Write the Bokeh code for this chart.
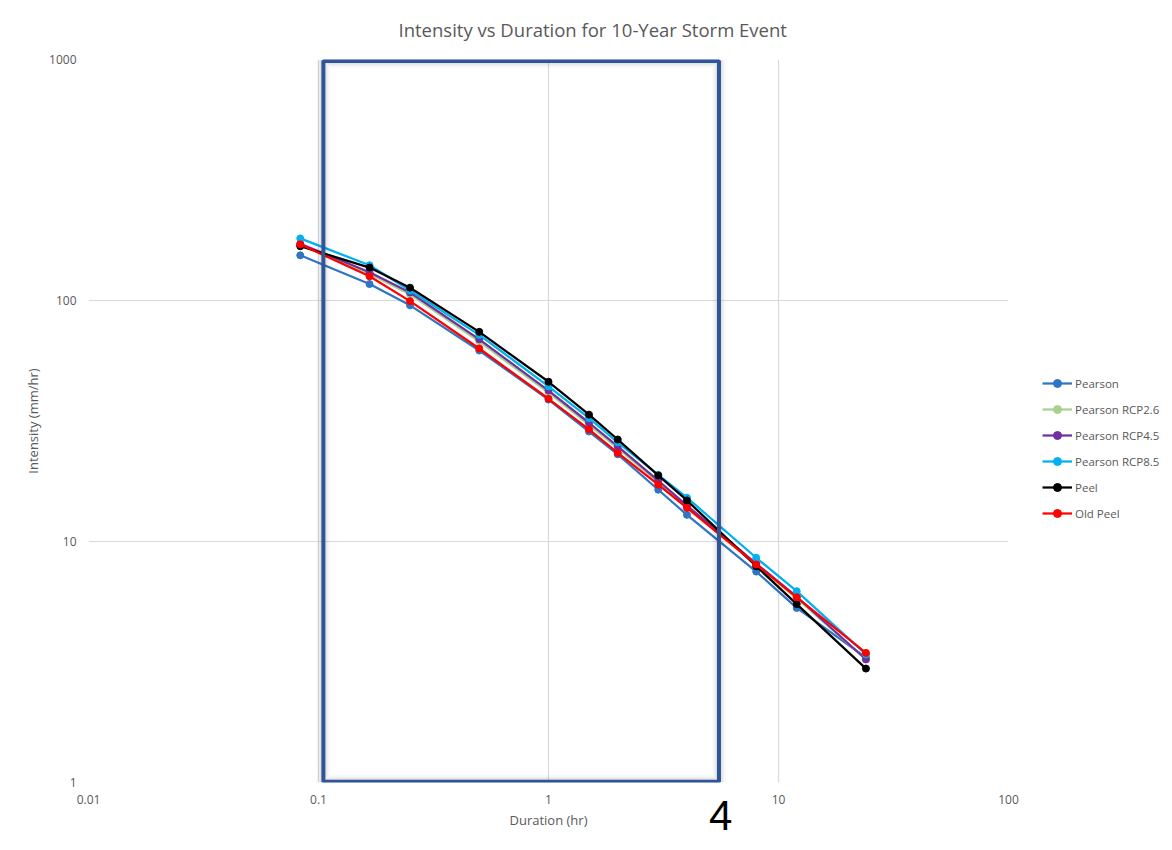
from bokeh.plotting import figure
from bokeh.models import (FixedTicker, Legend, LegendItem, Label,
                          Range1d, BasicTickFormatter)
from bokeh.embed import file_html
from bokeh.resources import INLINE

# ---------------- data ----------------
durations = [0.0833, 0.1667, 0.25, 0.5, 1, 1.5, 2, 3, 4, 8, 12, 24]

pearson =        [154, 117, 95.5, 62.0, 38.8, 28.6, 23.0, 16.4, 12.9, 7.50, 5.30, 3.30]
pearson_rcp26 =  [170, 129, 106,  67.5, 41.5, 30.5, 24.4, 17.6, 13.9, 8.00, 5.80, 3.25]
pearson_rcp45 =  [172, 131, 108,  69.0, 42.3, 31.1, 24.8, 17.9, 14.1, 8.10, 5.90, 3.24]
pearson_rcp85 =  [181, 140, 110,  72.0, 44.0, 32.5, 25.8, 18.9, 15.2, 8.56, 6.22, 3.40]
peel =           [168, 137, 113,  74.1, 46.0, 33.6, 26.5, 18.8, 14.8, 7.90, 5.50, 2.97]
old_peel =       [171, 126, 99.4, 63.2, 39.1, 29.2, 23.3, 17.2, 13.8, 8.03, 5.87, 3.45]

series_names = ["Pearson", "Pearson RCP2.6", "Pearson RCP4.5", "Pearson RCP8.5", "Peel", "Old Peel"]
series_values = [pearson, pearson_rcp26, pearson_rcp45, pearson_rcp85, peel, old_peel]
series_colors = ["#2E75C4", "#A9D18E", "#7030A0", "#00B0F0", "#000000", "#FF0000"]

x_ticks = [0.01, 0.1, 1, 10, 100]
x_tick_labels = ["0.01", "0.1", "1", "10", "100"]
y_ticks = [1, 10, 100, 1000]
y_tick_labels = ["1", "10", "100", "1000"]

title_text = "Intensity vs Duration for 10-Year Storm Event"
x_label = "Duration (hr)"
y_label = "Intensity (mm/hr)"
page_number = "4"

FONT = "Open Sans"
GRAY = "#595959"

# ---------------- figure ----------------
p = figure(x_axis_type="log", y_axis_type="log",
           x_range=Range1d(0.01, 100), y_range=Range1d(1, 1000),
           frame_width=920, frame_height=723,
           min_border_left=88, min_border_right=156,
           min_border_top=59, min_border_bottom=59,
           output_backend="svg", toolbar_location=None,
           title=title_text)
p.outline_line_color = None
p.background_fill_color = "white"
p.border_fill_color = "white"

p.title.text_font = FONT
p.title.text_font_size = "18.5px"
p.title.text_font_style = "normal"
p.title.text_color = GRAY
p.title.align = "left"
p.title.vertical_align = "top"
p.title.offset = 310
p.title.standoff = 31

for ax, ticks, labels in ((p.xaxis[0], x_ticks, x_tick_labels), (p.yaxis[0], y_ticks, y_tick_labels)):
    ax.ticker = FixedTicker(ticks=ticks, minor_ticks=[])
    ax.formatter = BasicTickFormatter()
    ax.major_label_overrides = {t: l for t, l in zip(ticks, labels)}
    ax.axis_line_color = None
    ax.major_tick_line_color = None
    ax.minor_tick_line_color = None
    ax.major_tick_out = 0
    ax.major_tick_in = 0
    ax.major_label_text_font = FONT
    ax.major_label_text_font_size = "12px"
    ax.major_label_text_color = GRAY
    ax.axis_label_text_font = FONT
    ax.axis_label_text_font_size = "13px"
    ax.axis_label_text_font_style = "normal"
    ax.axis_label_text_color = GRAY

p.xaxis.axis_label = x_label
p.yaxis.axis_label = y_label
p.xaxis.major_label_standoff = 12
p.yaxis.major_label_standoff = 12
p.xaxis.axis_label_standoff = 4
p.yaxis.axis_label_standoff = 4

for g in (p.xgrid[0], p.ygrid[0]):
    g.grid_line_color = "#D9D9D9"
    g.grid_line_width = 1.2

# ---------------- series ----------------
items = []
for name, vals, col in zip(series_names, series_values, series_colors):
    ln = p.line(durations, vals, line_color=col, line_width=2.25)
    sc = p.scatter(durations, vals, marker="circle", size=7, fill_color=col, line_color=col)
    items.append(LegendItem(label=name, renderers=[ln, sc]))

legend = Legend(items=items, location=(34, 259))
legend.padding = 0
legend.margin = 0
legend.spacing = 6
legend.glyph_width = 30
legend.glyph_height = 20
legend.label_height = 20
legend.label_standoff = 3
legend.border_line_color = None
legend.background_fill_alpha = 0
legend.label_text_font = FONT
legend.label_text_font_size = "11.5px"
legend.label_text_color = GRAY
p.add_layout(legend, "right")

# ---------------- overlay box with soft shadow ----------------
box_left, box_right, box_top, box_bottom = 0.105, 5.51, 985, 1.008
for w, a in ((14, 0.025), (10, 0.035), (7, 0.05)):
    p.quad(left=[box_left], right=[box_right], top=[box_top], bottom=[box_bottom],
           fill_alpha=0, line_color="black", line_alpha=a, line_width=w)
p.quad(left=[box_left], right=[box_right], top=[box_top], bottom=[box_bottom],
       fill_alpha=0, line_color="#2F5597", line_width=4)

p.add_layout(Label(x=5.6, y=0.73, text=page_number, text_font="Liberation Sans",
                   text_font_size="42px", text_align="center", text_baseline="middle",
                   text_color="black"), "right")

open("out.html", "w").write(file_html(p, INLINE))
